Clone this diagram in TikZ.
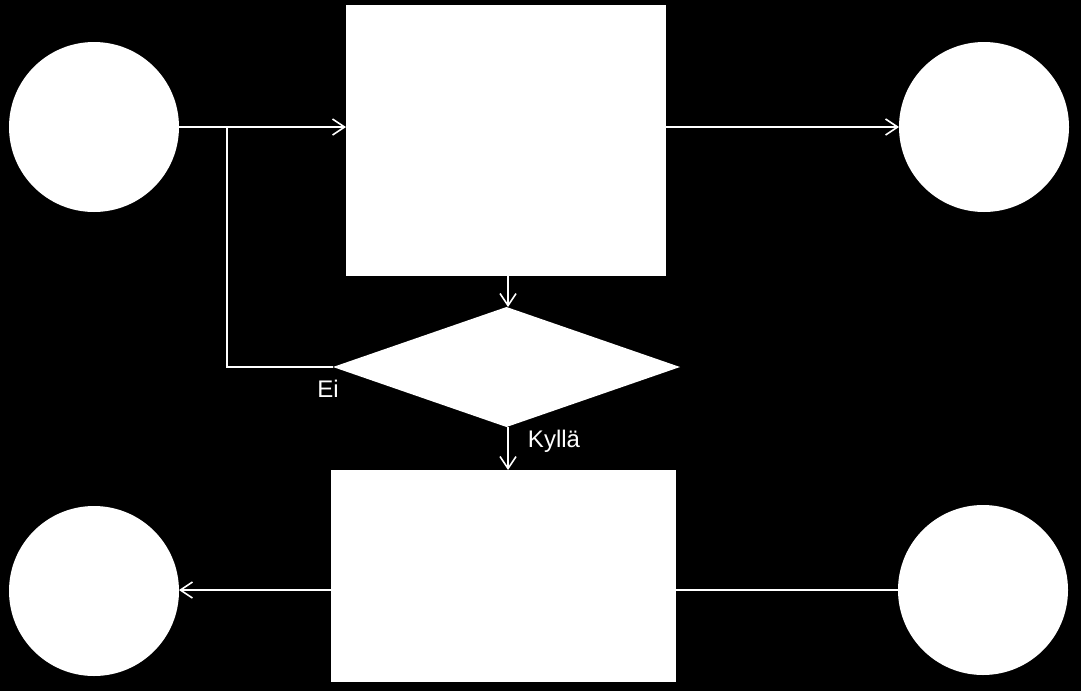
\documentclass[tikz,border=0pt]{standalone}
\usepackage{fontspec}
\setmainfont{Liberation Sans}
\usetikzlibrary{shapes.geometric,arrows.meta}
\begin{document}
\begin{tikzpicture}[x=1pt,y=-1pt,
  shapebox/.style={fill=white,draw=none,inner sep=0pt,outer sep=0pt},
  circ/.style={shapebox,circle,minimum size=170pt},
  conn/.style={draw=white,line width=1.8pt},
  arr/.style={conn,-{Straight Barb[length=12pt,width=16pt,line width=1.6pt]}},
  lbl/.style={text=white,font=\fontsize{24}{28}\selectfont}]
\fill[black] (0,0) rectangle (1081,691);
\useasboundingbox (0,0) rectangle (1081,691);
\node[circ] (c1) at (94,127) {};
\node[circ] (c2) at (984,127) {};
\node[circ] (c3) at (94,591) {};
\node[circ] (c4) at (983,590) {};
\node[shapebox,minimum width=320pt,minimum height=271pt] (r1) at (506,140.5) {};
\node[shapebox,minimum width=345pt,minimum height=212pt] (r2) at (503.5,576) {};
\node[shapebox,diamond,aspect=2.9,minimum width=347pt,minimum height=120pt] (d) at (506.5,367) {};
\coordinate (j) at (227,127);
\draw[arr] (c1.east) -- (r1.west |- c1.east);
\draw[conn] (d.west) -- (227,367) -- (j);
\draw[arr] (r1.east |- c2.west) -- (c2.west);
\draw[arr] (r1.south -| 508,0) -- (508,307);
\draw[arr] (508,427) -- (508,470);
\draw[arr] (r2.west |- 0,590) -- (c3.east |- 0,590);
\draw[conn] (c4.west) -- (r2.east |- c4.west);
\node[lbl] (ei) at (328,389) {Ei};
\node[lbl] (ky) at (554,441) {Kyllä};
\end{tikzpicture}
\end{document}
